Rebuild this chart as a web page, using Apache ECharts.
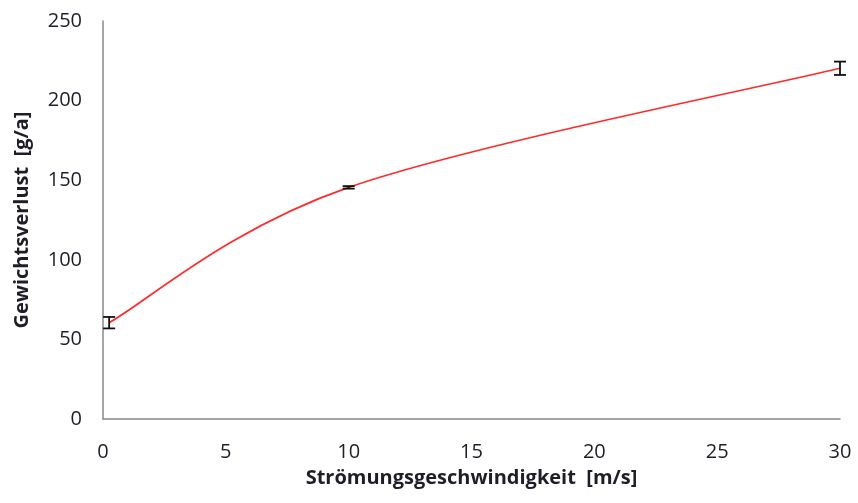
<!DOCTYPE html>
<html><head><meta charset="utf-8">
<script src="https://cdn.jsdelivr.net/npm/echarts@6/dist/echarts.min.js"></script>
<style>html,body{margin:0;padding:0;background:#fff}#c{width:858px;height:503px}</style>
</head><body><div id="c"></div>
<script>
const speeds = [0.25, 10, 30];
const losses = [60.5, 145.5, 220.3];
const errors = [3.6, 0.8, 4.2];
const xTicks = [0, 5, 10, 15, 20, 25, 30];
const yTicks = [0, 50, 100, 150, 200, 250];

const chart = echarts.init(document.getElementById('c'));
const font = '"Open Sans", "Noto Sans", sans-serif';
const labelColor = '#1e1e28';

// Excel-style smoothed line (Catmull-Rom, tension 1/6), computed in pixel space via the axes
function smoothSegment(params, api) {
  const i = params.dataIndex;
  if (i >= speeds.length - 1) return null;
  const P = speeds.map((s, k) => api.coord([s, losses[k]]));
  const p0 = P[Math.max(i - 1, 0)], p1 = P[i], p2 = P[i + 1], p3 = P[Math.min(i + 2, P.length - 1)];
  return {
    type: 'bezierCurve',
    shape: {
      x1: p1[0], y1: p1[1], x2: p2[0], y2: p2[1],
      cpx1: p1[0] + (p2[0] - p0[0]) / 6, cpy1: p1[1] + (p2[1] - p0[1]) / 6,
      cpx2: p2[0] - (p3[0] - p1[0]) / 6, cpy2: p2[1] - (p3[1] - p1[1]) / 6
    },
    style: {stroke: '#ff2a2a', lineWidth: 1.7, fill: null}
  };
}

chart.setOption({
  animation: false,
  grid: {left: 103, right: 18, top: 21, bottom: 84},
  xAxis: {
    type: 'value', min: xTicks[0], max: xTicks[xTicks.length-1], interval: 5,
    name: 'Strömungsgeschwindigkeit  [m/s]', nameLocation: 'middle', nameGap: 49,
    nameTextStyle: {fontFamily: font, fontWeight: 'bold', fontSize: 20, color: labelColor},
    axisLine: {lineStyle: {color: '#888', width: 1.5}},
    axisTick: {show: false}, splitLine: {show: false},
    axisLabel: {fontFamily: font, fontSize: 20, color: labelColor, margin: 23}
  },
  yAxis: {
    type: 'value', min: yTicks[0], max: yTicks[yTicks.length-1], interval: 50,
    name: 'Gewichtsverlust  [g/a]', nameLocation: 'middle', nameGap: 71,
    nameTextStyle: {fontFamily: font, fontWeight: 'bold', fontSize: 20, color: labelColor},
    axisLine: {show: true, lineStyle: {color: '#888', width: 1.5}},
    axisTick: {show: false}, splitLine: {show: false},
    axisLabel: {fontFamily: font, fontSize: 20, color: labelColor, margin: 21}
  },
  series: [
    {
      type: 'custom',
      data: speeds.map((s, i) => [s, losses[i]]),
      renderItem: smoothSegment,
      z: 3
    },
    {
      type: 'custom',
      data: speeds.map((s, i) => [s, losses[i] - errors[i], losses[i] + errors[i]]),
      renderItem: function (params, api) {
        const lo = api.coord([api.value(0), api.value(1)]);
        const hi = api.coord([api.value(0), api.value(2)]);
        const hw = 6;
        const st = {stroke: '#111', lineWidth: 1.8};
        return {type: 'group', children: [
          {type: 'line', shape: {x1: lo[0], y1: lo[1], x2: hi[0], y2: hi[1]}, style: st},
          {type: 'line', shape: {x1: lo[0]-hw, y1: lo[1], x2: lo[0]+hw, y2: lo[1]}, style: st},
          {type: 'line', shape: {x1: hi[0]-hw, y1: hi[1], x2: hi[0]+hw, y2: hi[1]}, style: st}
        ]};
      },
      z: 5
    }
  ]
});
</script></body></html>
